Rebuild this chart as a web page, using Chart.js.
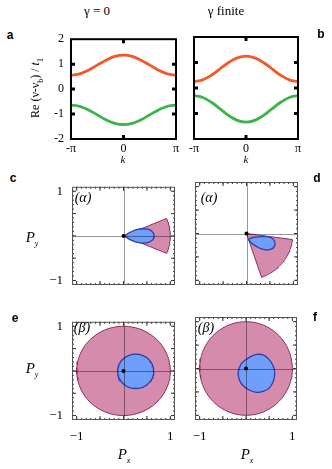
<!DOCTYPE html>
<html><head><meta charset="utf-8">
<script src="https://cdn.jsdelivr.net/npm/chart.js@4"></script>
<style>
html,body{margin:0;padding:0;background:#fff;}
body{width:332px;height:469px;overflow:hidden;position:relative;font-family:"Liberation Serif","Times New Roman",serif;color:#000;}
canvas{position:absolute;}
.t{position:absolute;white-space:nowrap;line-height:1;transform:translate(-50%,-50%);z-index:5;color:#000;}
.lt{font-family:"Liberation Sans",Arial,sans-serif;font-weight:bold;font-size:12px;}
.it{font-style:italic;}
sub{font-size:8px;vertical-align:-4px;line-height:0;}
</style></head><body>
<canvas id="ca"></canvas><canvas id="cb"></canvas>
<canvas id="cc"></canvas><canvas id="cd"></canvas>
<canvas id="ce"></canvas><canvas id="cf"></canvas>

<div class="t" style="left:97px;top:10px;font-size:13px;">γ = 0</div>
<div class="t" style="left:226px;top:10px;font-size:13px;">γ finite</div>
<div class="t lt" style="left:10px;top:35px;">a</div>
<div class="t lt" style="left:321px;top:34px;">b</div>
<div class="t lt" style="left:13px;top:178px;">c</div>
<div class="t lt" style="left:317px;top:178px;">d</div>
<div class="t lt" style="left:15px;top:318px;">e</div>
<div class="t lt" style="left:315px;top:317px;">f</div>
<div class="t" style="left:35px;top:88px;font-size:12px;transform:translate(-50%,-50%) rotate(-90deg);">Re (ν-ν<sub>b</sub>) / <i>t</i><sub>1</sub></div>
<div class="t it" style="left:123px;top:159px;font-size:11px;">k</div>
<div class="t it" style="left:246px;top:159px;font-size:11px;">k</div>
<div class="t it" style="left:83px;top:198px;font-size:14px;">(α)</div>
<div class="t it" style="left:209px;top:198px;font-size:14px;">(α)</div>
<div class="t it" style="left:82px;top:328px;font-size:14px;">(β)</div>
<div class="t it" style="left:206px;top:328px;font-size:14px;">(β)</div>
<div class="t it" style="left:32px;top:237px;font-size:15px;">P<sub>y</sub></div>
<div class="t it" style="left:32px;top:368px;font-size:15px;">P<sub>y</sub></div>
<div class="t it" style="left:124px;top:454px;font-size:15px;">P<sub>x</sub></div>
<div class="t it" style="left:247px;top:454px;font-size:15px;">P<sub>x</sub></div>

<script>
// ---------- data ----------
const kFractions = [-1,-5/6,-2/3,-1/2,-1/3,-1/6,0,1/6,1/3,1/2,2/3,5/6,1]; // k in units of pi
const upperBandA = [0.56,0.61,0.76,0.96,1.16,1.31,1.36,1.31,1.16,0.96,0.76,0.61,0.56];
const lowerBandA = [-0.64,-0.69,-0.84,-1.03,-1.23,-1.37,-1.42,-1.37,-1.23,-1.03,-0.84,-0.69,-0.64];
const upperBandB = [0.25,0.32,0.50,0.75,1.00,1.18,1.25,1.18,1.00,0.75,0.50,0.32,0.25];
const lowerBandB = [-0.30,-0.37,-0.56,-0.82,-1.08,-1.27,-1.34,-1.27,-1.08,-0.82,-0.56,-0.37,-0.30];
const kTickFractions = [-1,0,1];
const kTickLabels = ['-π','0','π'];
const bandTickValues = [-2,-1,0,1,2];
const bandTickLabels = ['-2','-1','0','1','2'];
const polTickValues = [-1,1];
const polTickLabels = ['−1','1'];

// sectors: [radius, start angle deg, end angle deg]
const sectorC = [1.0,-23,23];
const sectorD = [0.99,-71,-7.5];
// circles: [cx, cy, r]
const outerCircleE = [0,0,1.0];
const innerCircleE = [0.26,-0.01,0.385];
const outerCircleF = [0,0,1.0];
// teardrops / blob boundary points
const tearCX = [0.03,0.10,0.20,0.30,0.42,0.52,0.60,0.645,0.655,0.645,0.60,0.52,0.42,0.30,0.20,0.10];
const tearCY = [0.00,0.06,0.11,0.145,0.16,0.15,0.11,0.05,0.00,-0.05,-0.11,-0.15,-0.16,-0.145,-0.11,-0.06];
const tearDX = [0.04,0.15,0.29,0.47,0.57,0.61,0.59,0.54,0.43,0.32,0.22,0.11,0.06];
const tearDY = [-0.12,-0.08,-0.07,-0.07,-0.12,-0.21,-0.28,-0.33,-0.35,-0.33,-0.28,-0.21,-0.15];
const blobFX = [0.00,0.09,0.23,0.37,0.50,0.59,0.62,0.59,0.50,0.37,0.23,0.09,-0.06,-0.14,-0.17,-0.11,-0.04];
const blobFY = [0.19,0.25,0.30,0.29,0.19,0.05,-0.09,-0.27,-0.42,-0.49,-0.51,-0.47,-0.37,-0.25,-0.09,0.09,0.16];
const originPoint = [0,0];

// ---------- styles ----------
const SERIF = '"Liberation Serif","Times New Roman",serif';
const ORANGE = '#ef5a28', GREEN = '#3db34a';
const PINK = '#d58bab', PINK_EDGE = '#8c2d64';
const BLUE = '#6f9ffb', BLUE_EDGE = '#2c3ea6';

function place(id, box, L, T, R, B){
  const c = document.getElementById(id);
  c.width = box[2]+L+R; c.height = box[3]+T+B;
  c.style.left = (box[0]-L)+'px'; c.style.top = (box[1]-T)+'px';
  return c;
}
function sectorPoints(s){
  const [r,a0,a1] = s, pts = [{x:0,y:0}], n = 40;
  for(let i=0;i<=n;i++){ const t=(a0+(a1-a0)*i/n)*Math.PI/180; pts.push({x:r*Math.cos(t),y:r*Math.sin(t)}); }
  pts.push({x:0,y:0}); return pts;
}
function circlePoints(c){
  const [cx,cy,r] = c, pts = [], n = 90;
  for(let i=0;i<=n;i++){ const t=2*Math.PI*i/n; pts.push({x:cx+r*Math.cos(t),y:cy+r*Math.sin(t)}); }
  return pts;
}
function listPoints(xs, ys){
  const pts = xs.map((x,i)=>({x, y:ys[i]})); pts.push({...pts[0]}); return pts;
}

const framePlugin = {
  id:'frame',
  afterDatasetsDraw(chart, args, o){
    const {ctx, chartArea:a} = chart, xs = chart.scales.x, ys = chart.scales.y;
    ctx.save();
    if(o.cross){
      ctx.strokeStyle = o.cross; ctx.lineWidth = 1;
      const px = Math.round(xs.getPixelForValue(0))+0.5, py = Math.round(ys.getPixelForValue(0))+0.5;
      ctx.beginPath(); ctx.moveTo(px,a.top); ctx.lineTo(px,a.bottom); ctx.moveTo(a.left,py); ctx.lineTo(a.right,py); ctx.stroke();
    }
    for(const t of o.ticks){
      ctx.strokeStyle = t.color; ctx.lineWidth = t.width; ctx.beginPath();
      for(const v of t.x){ const p = xs.getPixelForValue(v); ctx.moveTo(p,a.top); ctx.lineTo(p,a.top+t.len); ctx.moveTo(p,a.bottom); ctx.lineTo(p,a.bottom-t.len); }
      for(const v of t.y){ const p = ys.getPixelForValue(v); ctx.moveTo(a.left,p); ctx.lineTo(a.left+t.len,p); ctx.moveTo(a.right,p); ctx.lineTo(a.right-t.len,p); }
      ctx.stroke();
    }
    ctx.strokeStyle = o.border; ctx.lineWidth = o.borderWidth;
    const off = o.borderWidth % 2 ? 0.5 : 0;
    ctx.strokeRect(a.left+off, a.top+off, a.width-2*off, a.height-2*off);
    ctx.restore();
  }
};

function axis(min, max, show, vals, labels, fontSize, pad, fitSize, isX){
  return {
    type:'linear', min, max, display: show,
    afterBuildTicks: s => { s.ticks = vals.map(v=>({value:v})); },
    ticks:{ callback:(v,i)=>labels[i], font:{family:SERIF,size:fontSize}, color:'#000', padding:pad, autoSkip:false, maxRotation:0 },
    grid:{ display:false, drawTicks:false }, border:{ display:false },
    afterFit: s => { if(!show) return; if(isX) s.height = fitSize; else s.width = fitSize; }
  };
}

const L=45, T=12, R=12, B=25;
const baseOpts = (scales, frame, showX, showY) => ({
  responsive:false, animation:false, events:[],
  layout:{ padding:{ left: showY?0:L, top:T, right:R, bottom: showX?0:B } },
  plugins:{ legend:{display:false}, tooltip:{enabled:false}, frame },
  scales
});

// ---------- band panels ----------
function bandPanel(id, box, up, low, showY){
  const kTicks = kTickFractions.map(f=>f*Math.PI);
  const frame = { border:'#000', borderWidth:2, cross:null,
    ticks:[{x:[0], y:[-1,0,1], len:4, width:3, color:'#000'}] };
  new Chart(place(id, box, L, T, R, B), {
    type:'line',
    data:{ datasets:[
      { data: kFractions.map((f,i)=>({x:f*Math.PI, y:up[i]})), borderColor:ORANGE, borderWidth:2.8, pointRadius:0, tension:0.4, fill:false },
      { data: kFractions.map((f,i)=>({x:f*Math.PI, y:low[i]})), borderColor:GREEN, borderWidth:2.8, pointRadius:0, tension:0.4, fill:false }
    ]},
    options: baseOpts({
      x: axis(-Math.PI, Math.PI, true, kTicks, kTickLabels, 12, 3, B, true),
      y: axis(-2, 2, showY, bandTickValues, bandTickLabels, 12, 7, L, false)
    }, frame, true, showY),
    plugins:[framePlugin]
  });
}
bandPanel('ca', [71,37,105,102], upperBandA, lowerBandA, true);
bandPanel('cb', [194,37,104,102], upperBandB, lowerBandB, false);

// ---------- polarization panels ----------
const minorTicks = []; for(let i=-10;i<=10;i++) minorTicks.push(i/10);
const majorTicks = [-1,-0.5,0,0.5,1];
function polPanel(id, box, shapes, showX, showY, cross){
  const frame = { border:'#555', borderWidth:1, cross,
    ticks:[{x:minorTicks, y:minorTicks, len:2, width:1, color:'#333'},
           {x:majorTicks, y:majorTicks, len:4, width:1, color:'#333'}] };
  const datasets = [
    { data:[{x:originPoint[0], y:originPoint[1]}], showLine:false, pointRadius:2, pointBackgroundColor:'#000', pointBorderWidth:0 }
  ];
  for(const s of shapes){
    datasets.push({ data:s.pts, showLine:true, pointRadius:0, borderColor:s.edge, borderWidth:s.w, backgroundColor:s.fill, fill:'shape', tension:s.tension||0 });
  }
  new Chart(place(id, box, L, T, R, B), {
    type:'scatter',
    data:{ datasets },
    options: baseOpts({
      x: axis(-1.1, 1.1, showX, polTickValues, polTickLabels, 13, 9, B, true),
      y: axis(-1.1, 1.1, showY, polTickValues, polTickLabels, 13, 9, L, false)
    }, frame, showX, showY),
    plugins:[framePlugin]
  });
}
// dataset 0 drawn on top; so inner shape listed before outer
polPanel('cc', [72,182,103,103], [
  {pts:listPoints(tearCX, tearCY), fill:BLUE, edge:BLUE_EDGE, w:1.3, tension:0.3},
  {pts:sectorPoints(sectorC), fill:PINK, edge:PINK_EDGE, w:1}
], false, true, 'rgba(0,0,0,0.4)');
polPanel('cd', [195,182,103,103], [
  {pts:listPoints(tearDX, tearDY), fill:BLUE, edge:BLUE_EDGE, w:1.3, tension:0.3},
  {pts:sectorPoints(sectorD), fill:PINK, edge:PINK_EDGE, w:1}
], false, false, 'rgba(0,0,0,0.4)');
polPanel('ce', [72,317,103,103], [
  {pts:circlePoints(innerCircleE), fill:BLUE, edge:BLUE_EDGE, w:1.3},
  {pts:circlePoints(outerCircleE), fill:PINK, edge:PINK_EDGE, w:1}
], true, true, 'rgba(0,0,0,0.4)');
polPanel('cf', [195,317,102,103], [
  {pts:listPoints(blobFX, blobFY), fill:BLUE, edge:BLUE_EDGE, w:1.3, tension:0.3},
  {pts:circlePoints(outerCircleF), fill:PINK, edge:PINK_EDGE, w:1}
], true, false, 'rgba(0,0,0,0.4)');
</script>
</body></html>
